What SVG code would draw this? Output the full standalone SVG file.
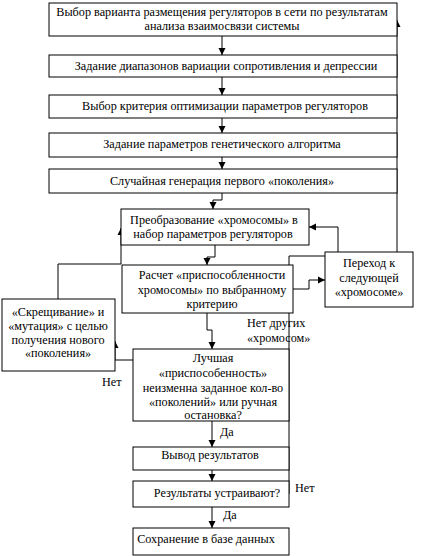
<svg xmlns="http://www.w3.org/2000/svg" width="434" height="556" viewBox="0 0 434 556">
<style>
.box{fill:#fff;stroke:#000;stroke-width:1}
text{font-family:'Liberation Serif','Times New Roman','DejaVu Serif',serif;font-size:12.2px;fill:#000}
.t{text-anchor:middle}
.c{fill:none;stroke:#000;stroke-width:1}
</style>
<defs>
<marker id="ah" markerUnits="userSpaceOnUse" markerWidth="8" markerHeight="8" refX="7" refY="4" orient="auto">
<path d="M0,0.5 L7,4 L0,7.5 z" fill="#000"/>
</marker>
</defs>
<rect width="434" height="556" fill="#fff"/>
<g id="connectors">
<path class="c" d="M222 36 V55" marker-end="url(#ah)"/>
<path class="c" d="M222 77 V95" marker-end="url(#ah)"/>
<path class="c" d="M222 118 V133" marker-end="url(#ah)"/>
<path class="c" d="M222 157 V169" marker-end="url(#ah)"/>
<path class="c" d="M222 193 V200 H213 V209" marker-end="url(#ah)"/>
<path class="c" d="M215 245 V257 H207 V265" marker-end="url(#ah)"/>
<path class="c" d="M293 289 H309 V280 H325" marker-end="url(#ah)"/>
<path class="c" d="M368 252.5 H338 V227 H309" marker-end="url(#ah)"/>
<path class="c" d="M58 299 V264 H121 V228" marker-end="url(#ah)"/>
<path class="c" d="M207 313 V330 H212 V349" marker-end="url(#ah)"/>
<path class="c" d="M133 360 H115 V341" marker-end="url(#ah)"/>
<path class="c" d="M212 421 V447" marker-end="url(#ah)"/>
<path class="c" d="M212 470 V481" marker-end="url(#ah)"/>
<path class="c" d="M212 507 V528" marker-end="url(#ah)"/>
<path class="c" d="M289 494 V256 H397 V20" marker-end="url(#ah)"/>
</g>
<g id="n1"><rect class="box" x="49" y="3" width="348" height="33"/>
<text class="t" x="222" y="16">Выбор варианта размещения регуляторов в сети по результатам</text>
<text class="t" x="222" y="30">анализа взаимосвязи системы</text></g>
<g id="n2"><rect class="box" x="49" y="55" width="348" height="22"/>
<text class="t" x="226" y="70">Задание диапазонов вариации сопротивления и депрессии</text></g>
<g id="n3"><rect class="box" x="49" y="95" width="348" height="23"/>
<text class="t" x="225" y="110">Выбор критерия оптимизации параметров регуляторов</text></g>
<g id="n4"><rect class="box" x="49" y="133" width="348" height="24"/>
<text class="t" x="222" y="148">Задание  параметров генетического алгоритма</text></g>
<g id="n5"><rect class="box" x="49" y="169" width="348" height="24"/>
<text class="t" x="222" y="185">Случайная генерация первого «поколения»</text></g>
<g id="n6"><rect class="box" x="121" y="209" width="188" height="36"/>
<text class="t" x="214" y="224">Преобразование «хромосомы» в</text>
<text class="t" x="213" y="238">набор параметров регуляторов</text></g>
<g id="n7"><rect class="box" x="122" y="265" width="171" height="48"/>
<text class="t" x="212" y="279">Расчет «приспособленности</text>
<text class="t" x="212" y="294">хромосомы» по выбранному</text>
<text class="t" x="212" y="308">критерию</text></g>
<g id="n8"><rect class="box" x="325" y="252" width="88" height="55"/>
<text class="t" x="369" y="267">Переход к</text>
<text class="t" x="369" y="282">следующей</text>
<text class="t" x="369" y="296">«хромосоме»</text></g>
<g id="n9"><rect class="box" x="2" y="299" width="113" height="72"/>
<text class="t" x="58" y="316">«Скрещивание» и</text>
<text class="t" x="58" y="330">«мутация» с целью</text>
<text class="t" x="58" y="344">получения нового</text>
<text class="t" x="58" y="357">«поколения»</text></g>
<g id="n10"><rect class="box" x="133" y="349" width="156" height="72"/>
<text class="t" x="213" y="362">Лучшая</text>
<text class="t" x="213" y="377">«приспособенность»</text>
<text class="t" x="213" y="392">неизменна заданное кол-во</text>
<text class="t" x="213" y="406">«поколений» или ручная</text>
<text class="t" x="213" y="419">остановка?</text></g>
<g id="n11"><rect class="box" x="133" y="447" width="156" height="23"/>
<text class="t" x="210" y="459">Вывод результатов</text></g>
<g id="n12"><rect class="box" x="133" y="481" width="156" height="26"/>
<text class="t" x="217" y="497">Результаты устраивают?</text></g>
<g id="n13"><rect class="box" x="133" y="528" width="156" height="27"/>
<text class="t" x="206" y="543">Сохранение в базе данных</text></g>
<g id="labels">
<text x="247" y="327">Нет других</text>
<text x="247" y="342">«хромосом»</text>
<text x="102" y="386">Нет</text>
<text x="220" y="436">Да</text>
<text x="223" y="519">Да</text>
<text x="295" y="492">Нет</text>
</g>
</svg>
